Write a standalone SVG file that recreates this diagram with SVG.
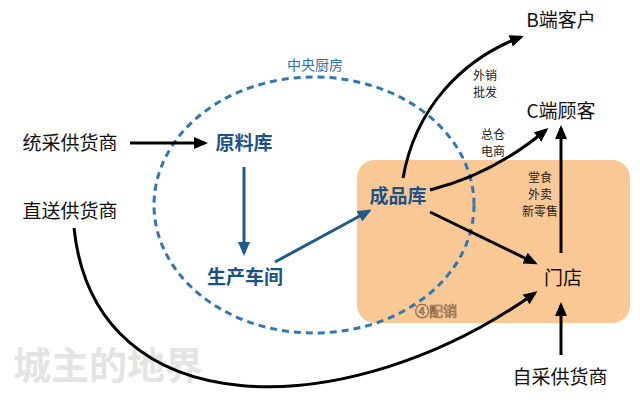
<svg xmlns="http://www.w3.org/2000/svg" width="640" height="400" viewBox="0 0 640 400">
<defs>
<marker id="ab" markerUnits="userSpaceOnUse" markerWidth="14" markerHeight="12" refX="11" refY="6" orient="auto"><path d="M0,0 L14,6 L0,12 z" fill="#000"/></marker>
<marker id="au" markerUnits="userSpaceOnUse" markerWidth="14" markerHeight="12" refX="11" refY="6" orient="auto"><path d="M0,0 L14,6 L0,12 z" fill="#1F5A8C"/></marker>
</defs>
<style>
text{font-family:"Noto Sans CJK SC","Noto Sans",sans-serif;}
.n{font-size:19px;fill:#111;}
.b{font-size:19px;font-weight:bold;fill:#1D5285;}
.s{font-size:12px;fill:#222;}
.k{fill:none;stroke:#000;stroke-width:3;marker-end:url(#ab);}
.u{fill:none;stroke:#1F5A8C;stroke-width:3;marker-end:url(#au);}
</style>
<rect width="640" height="400" fill="#fff"/>
<g id="zone">
<rect x="357" y="160" width="273" height="163" rx="18" fill="#F9C894"/>
<text x="436" y="316" font-size="14" fill="#E2B183" stroke="#8A6448" stroke-width="0.6" text-anchor="middle">④配销</text>
</g>
<g id="kitchen">
<ellipse cx="314" cy="205" rx="160" ry="128" fill="none" stroke="#2F78B2" stroke-width="3" stroke-dasharray="7,5"/>
<text x="315" y="70" font-size="14" fill="#2E6FA8" text-anchor="middle">中央厨房</text>
</g>
<text x="108" y="379" font-size="38" font-weight="bold" fill="#E4E4E4" text-anchor="middle">城主的地界</text>
<g id="connectors">
<path class="k" d="M130,143 L205,143"/>
<path class="u" d="M244,167 L244,253"/>
<path class="u" d="M275,262 L369,211"/>
<path class="k" d="M403,178 C415,110 460,60 521,37"/>
<path class="k" d="M430,190 C470,180 510,160 546,130"/>
<path class="k" d="M430,212 L535,263"/>
<path class="k" d="M561,253 L561,128"/>
<path class="k" d="M561,355 L561,305"/>
<path class="k" d="M74,228 C95,430 350,425 535,293"/>
<text class="s" x="485" y="80" text-anchor="middle">外销</text>
<text class="s" x="485" y="97" text-anchor="middle">批发</text>
<text class="s" x="493" y="139" text-anchor="middle">总仓</text>
<text class="s" x="493" y="156" text-anchor="middle">电商</text>
<text class="s" x="540" y="182" text-anchor="middle">堂食</text>
<text class="s" x="540" y="199" text-anchor="middle">外卖</text>
<text class="s" x="540" y="216" text-anchor="middle">新零售</text>
</g>
<g id="tongcai"><text class="n" x="70" y="150" text-anchor="middle">统采供货商</text></g>
<g id="zhisong"><text class="n" x="70" y="218" text-anchor="middle">直送供货商</text></g>
<g id="yuanliao"><text class="b" x="244" y="150" text-anchor="middle">原料库</text></g>
<g id="shengchan"><text class="b" x="245" y="284" text-anchor="middle">生产车间</text></g>
<g id="chengpin"><text class="b" x="398" y="203" text-anchor="middle">成品库</text></g>
<g id="bduan"><text class="n" x="561" y="27" text-anchor="middle">B端客户</text></g>
<g id="cduan"><text class="n" x="561" y="118" text-anchor="middle">C端顾客</text></g>
<g id="mendian"><text class="n" x="563" y="285" text-anchor="middle">门店</text></g>
<g id="zicai"><text class="n" x="560" y="384" text-anchor="middle">自采供货商</text></g>
</svg>
